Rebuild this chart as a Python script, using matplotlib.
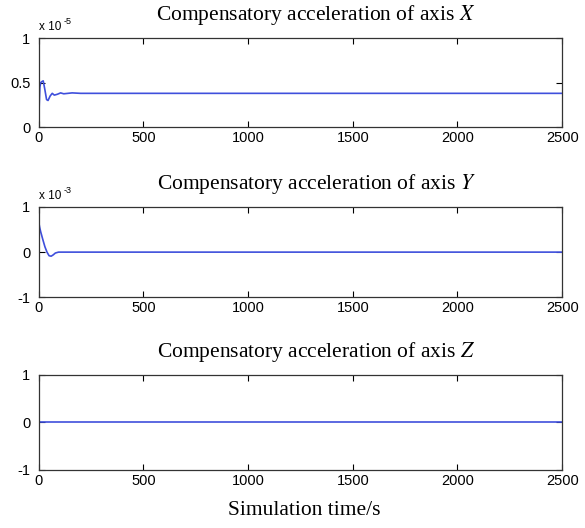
import numpy as np
import matplotlib.pyplot as plt

# Compensatory acceleration on the three axes (values in units of the axis scale)
t_x = [0, 3, 6, 10, 15, 22, 30, 38, 45, 55, 65, 75, 90, 105, 120, 140, 160, 200, 2500]
acc_x = [0, 0.25, 0.45, 0.50, 0.51, 0.52, 0.42, 0.31, 0.30, 0.35, 0.38, 0.36, 0.37, 0.385, 0.375, 0.38, 0.385, 0.38, 0.38]
t_y = [0, 5, 10, 20, 30, 40, 50, 60, 70, 80, 95, 2500]
acc_y = [0.68, 0.55, 0.45, 0.28, 0.12, 0.0, -0.08, -0.09, -0.06, -0.02, 0, 0]
t_z = [0, 2500]
acc_z = [0, 0]

titles = ['Compensatory acceleration of axis $X$',
          'Compensatory acceleration of axis $Y$',
          'Compensatory acceleration of axis $Z$']
scales = ['-5', '-3', None]
yticks = [[0, 0.5, 1], [-1, 0, 1], [-1, 0, 1]]
yticklabels = [['0', '0.5', '1'], ['-1', '0', '1'], ['-1', '0', '1']]
ylims = [(0, 1), (-1, 1), (-1, 1)]
xticks = [0, 500, 1000, 1500, 2000, 2500]

series = [(t_x, acc_x), (t_y, acc_y), (t_z, acc_z)]
boxes = [[0.066, 0.759, 0.895, 0.169],
         [0.066, 0.437, 0.895, 0.171],
         [0.066, 0.110, 0.895, 0.180]]

plt.rcParams['mathtext.fontset'] = 'stix'
fig = plt.figure(figsize=(5.85, 5.28), dpi=100)

for i in range(3):
    ax = fig.add_axes(boxes[i])
    t, a = series[i]
    ax.plot(t, a, color='#3f4fdc', linewidth=1.2)
    ax.set_xlim(0, 2500)
    ax.set_ylim(*ylims[i])
    ax.set_xticks(xticks)
    ax.set_xticklabels([str(v) for v in xticks], family='Liberation Sans', fontsize=10.5)
    ax.set_yticks(yticks[i])
    ax.set_yticklabels(yticklabels[i], family='Liberation Sans', fontsize=10.5)
    ax.tick_params(direction='in', top=True, right=True, length=4, width=0.8, pad=3)
    ax.tick_params(axis='y', pad=6)
    for s in ax.spines.values():
        s.set_linewidth(0.9)
        s.set_color('#333333')
    ax.set_title(titles[i], family='Liberation Serif', fontsize=15.5, pad=13, x=0.53)
    if scales[i] is not None:
        # multiplier shown above the y axis
        ax.text(0.0, 1.09, 'x 10', transform=ax.transAxes,
                family='Liberation Sans', fontsize=8.5, va='baseline', ha='left')
        ax.text(0.048, 1.16, scales[i], transform=ax.transAxes,
                family='Liberation Sans', fontsize=6.5, va='baseline', ha='left')

fig.text(0.52, 0.015, 'Simulation time/s', family='Liberation Serif', fontsize=15.5,
         ha='center', va='bottom')

fig.savefig('out.png', dpi=100)
